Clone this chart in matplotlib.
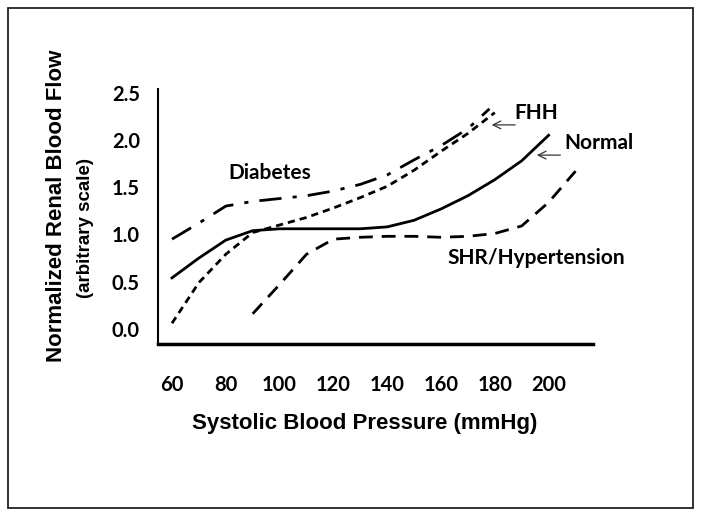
import matplotlib
matplotlib.use("Agg")
import matplotlib.pyplot as plt
from matplotlib.patches import Rectangle

# Data
normal_x = [60, 70, 80, 90, 100, 110, 120, 130, 140, 150, 160, 170, 180, 190, 200]
normal_y = [0.54, 0.75, 0.94, 1.04, 1.06, 1.06, 1.06, 1.06, 1.08, 1.15, 1.27, 1.41, 1.58, 1.78, 2.05]

diab_x = [60, 70, 80, 90, 100, 110, 120, 130, 140, 150, 160, 170, 178]
diab_y = [0.95, 1.12, 1.30, 1.35, 1.38, 1.41, 1.46, 1.53, 1.63, 1.79, 1.94, 2.12, 2.33]

fhh_x = [60, 70, 80, 90, 100, 110, 120, 130, 140, 150, 160, 170, 180]
fhh_y = [0.06, 0.49, 0.79, 1.02, 1.10, 1.18, 1.28, 1.39, 1.51, 1.68, 1.88, 2.07, 2.29]

shr_x = [90, 100, 110, 120, 130, 140, 150, 160, 170, 180, 190, 200, 210]
shr_y = [0.16, 0.47, 0.79, 0.95, 0.97, 0.98, 0.98, 0.97, 0.98, 1.01, 1.09, 1.34, 1.67]

xticks = [60, 80, 100, 120, 140, 160, 180, 200]
yticks = [0.0, 0.5, 1.0, 1.5, 2.0, 2.5]
ytick_labels = ["0.0", "0.5", "1.0", "1.5", "2.0", "2.5"]

fig = plt.figure(figsize=(7.01, 5.17), dpi=100)
fig.patches.append(Rectangle((8 / 701, 1 - 508 / 517), (693 - 8) / 701, (508 - 8) / 517,
                             transform=fig.transFigure, fill=False, edgecolor="#222222",
                             linewidth=1.3))

ax = fig.add_axes([158 / 701, 1 - 344 / 517, (593 - 158) / 701, (344 - 89) / 517])
ax.set_xlim(54.8, 216.5)
ax.set_ylim(-0.16, 2.54)

lw = 2.0
ax.plot(normal_x, normal_y, color="black", linewidth=lw, linestyle="-")
ax.plot(diab_x, diab_y, color="black", linewidth=lw, linestyle=(0, (8, 4, 1.5, 4)))
ax.plot(fhh_x, fhh_y, color="black", linewidth=lw, linestyle=(0, (2.6, 1.8)))
ax.plot(shr_x, shr_y, color="black", linewidth=lw, linestyle=(0, (5, 3.2)))

for s in ["top", "right"]:
    ax.spines[s].set_visible(False)
ax.spines["left"].set_linewidth(1.5)
ax.spines["bottom"].set_linewidth(2.5)

ax.set_xticks(xticks)
ax.set_xticklabels([str(v) for v in xticks])
ax.set_yticks(yticks)
ax.set_yticklabels(ytick_labels)
ax.tick_params(axis="both", length=0)
ax.tick_params(axis="x", pad=22)
ax.tick_params(axis="y", pad=13)
for lab in ax.get_xticklabels() + ax.get_yticklabels():
    lab.set_fontfamily("Lato")
    lab.set_fontweight("bold")
    lab.set_fontsize(14.5)

tfont = dict(family="Lato", weight="bold", fontsize=15)
ax.text(96.4, 1.65, "Diabetes", ha="center", va="center", **tfont)
ax.text(195.3, 2.29, "FHH", ha="center", va="center", clip_on=False, **tfont)
ax.text(218.7, 1.97, "Normal", ha="center", va="center", clip_on=False, **tfont)
ax.text(195.3, 0.75, "SHR/Hypertension", ha="center", va="center", **tfont)

arrow = dict(arrowstyle="->", color="#333333", linewidth=0.9, mutation_scale=14)
ax.annotate("", xy=(177.8, 2.16), xytext=(188.6, 2.16), arrowprops=arrow, annotation_clip=False)
ax.annotate("", xy=(194.6, 1.84), xytext=(205.4, 1.84), arrowprops=arrow, annotation_clip=False)

fig.text(365 / 701, 1 - 424 / 517, "Systolic Blood Pressure (mmHg)", ha="center", va="center",
         family="Liberation Sans", weight="bold", fontsize=16)
fig.text(57 / 701, 1 - 206 / 517, "Normalized Renal Blood Flow", ha="center", va="center",
         rotation=90, family="Liberation Sans", weight="bold", fontsize=16)
fig.text(86 / 701, 1 - 228 / 517, "(arbitrary scale)", ha="center", va="center",
         rotation=90, family="Liberation Sans", weight="bold", fontsize=13.5)

fig.savefig("out.png", dpi=100)
